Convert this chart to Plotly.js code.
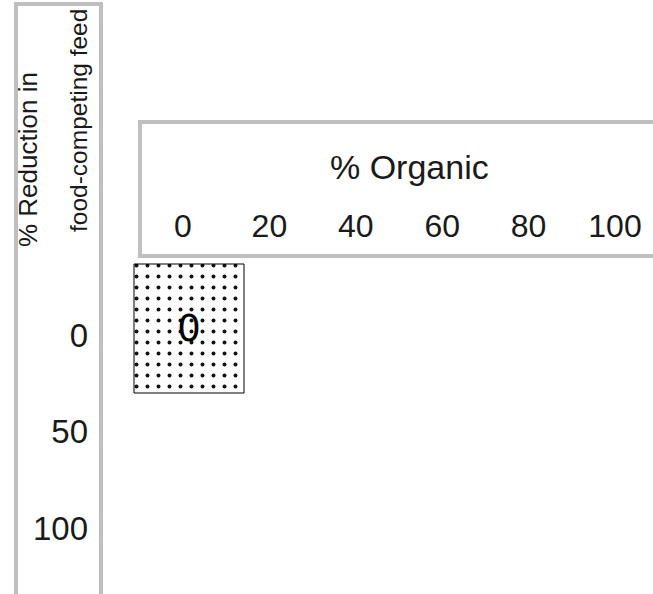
<!DOCTYPE html>
<html>
<head>
<meta charset="utf-8">
<script src="https://cdn.plot.ly/plotly-3.0.1.min.js"></script>
<style>
  html, body { margin: 0; padding: 0; background: #ffffff; }
  #chart { width: 653px; height: 594px; }
</style>
</head>
<body>
<div id="chart"></div>
<script>
// ---- data ----
const organicPct = [0];          // x category of the cell (% Organic)
const reductionPct = [0];        // y category of the cell (% Reduction in food-competing feed)
const cellValues = [0];          // value printed in the cell
const xTickVals = [0, 20, 40, 60, 80, 100];
const yTickVals = [0, 50, 100];
const xTitle = '% Organic';
const yTitleLines = ['% Reduction in', 'food-competing feed'];

// ---- layout geometry (pixels) ----
const W = 653, H = 594;
const L = 120, R = 0, T = 260, B = 0;
const plotW = W - L - R, plotH = H - T - B;
// pixel -> paper helpers
const px = x => (x - L) / plotW;
const py = y => (H - B - y) / plotH;

// axis mapping: 0 -> 183px, 100 -> 615px ; 0 -> 335px, 100 -> 528px
const xPerUnit = (615 - 183) / 100;
const yPerUnit = (528 - 335) / 100;
const xRange = [-(183 - L) / xPerUnit, 100 + (W - R - 615) / xPerUnit];
const yRange = [100 + (H - B - 528) / yPerUnit, -(335 - T) / yPerUnit];

// cell size and its small visual offset from the tick position (pixels -> data units)
const CELL_W = 110 / xPerUnit;
const CELL_H = 129 / yPerUnit;
const SHIFT_X = 6 / xPerUnit;
const SHIFT_Y = 6.5 / yPerUnit;

const font = 'Liberation Sans, Arial, Helvetica, sans-serif';
const boxColor = '#bfbfbf';

const trace = {
  type: 'bar',
  x: organicPct,
  y: reductionPct.map(() => CELL_H),
  base: reductionPct.map(r => r - CELL_H / 2 - SHIFT_Y),
  width: organicPct.map(() => CELL_W),
  offset: organicPct.map(() => -CELL_W / 2 + SHIFT_X),
  text: cellValues.map(v => String(v)),
  textposition: 'inside',
  insidetextanchor: 'middle',
  constraintext: 'none',
  textfont: { family: 'DejaVu Sans, sans-serif', size: 37, color: '#000000' },
  marker: {
    color: '#ffffff',
    line: { color: '#000000', width: 1 },
    pattern: { shape: '.', size: 11, solidity: 0.1, fgcolor: '#111111', bgcolor: '#ffffff' }
  },
  hoverinfo: 'skip',
  showlegend: false
};

const layout = {
  width: W, height: H,
  margin: { l: L, r: R, t: T, b: B, pad: 0 },
  paper_bgcolor: '#ffffff',
  plot_bgcolor: '#ffffff',
  font: { family: font, color: '#1a1a1a' },
  showlegend: false,
  hovermode: false,
  xaxis: {
    side: 'top',
    range: xRange,
    tickvals: xTickVals,
    ticktext: xTickVals.map(String),
    tickfont: { family: font, size: 32, color: '#1a1a1a' },
    ticks: '',
    ticklabelstandoff: 16,
    showgrid: false, zeroline: false, showline: false,
    automargin: false, fixedrange: true
  },
  yaxis: {
    range: yRange,
    tickvals: yTickVals,
    ticktext: yTickVals.map(String),
    tickfont: { family: font, size: 33, color: '#1a1a1a' },
    ticks: '',
    ticklabelstandoff: 31,
    showgrid: false, zeroline: false, showline: false,
    automargin: false, fixedrange: true
  },
  shapes: [
    // strip box around the x-axis title and ticks
    { type: 'rect', xref: 'paper', yref: 'paper',
      x0: px(140), x1: px(720), y0: py(256), y1: py(122),
      line: { color: boxColor, width: 4 }, fillcolor: 'rgba(0,0,0,0)', layer: 'below' },
    // strip box around the y-axis title and ticks
    { type: 'rect', xref: 'paper', yref: 'paper',
      x0: px(16), x1: px(101), y0: py(640), y1: py(4),
      line: { color: boxColor, width: 4 }, fillcolor: 'rgba(0,0,0,0)', layer: 'below' }
  ],
  annotations: [
    { text: xTitle, xref: 'paper', yref: 'paper', x: px(409), y: py(167),
      xanchor: 'center', yanchor: 'middle', showarrow: false,
      font: { family: font, size: 34, color: '#1a1a1a' } },
    { text: yTitleLines[0], xref: 'paper', yref: 'paper', x: px(28), y: py(160),
      xanchor: 'center', yanchor: 'middle', textangle: -90, showarrow: false,
      font: { family: font, size: 26, color: '#1a1a1a' } },
    { text: yTitleLines[1], xref: 'paper', yref: 'paper', x: px(78), y: py(121),
      xanchor: 'center', yanchor: 'middle', textangle: -90, showarrow: false,
      font: { family: font, size: 24.5, color: '#1a1a1a' } }
  ]
};

Plotly.newPlot('chart', [trace], layout, { staticPlot: true, displayModeBar: false });
</script>
</body>
</html>
